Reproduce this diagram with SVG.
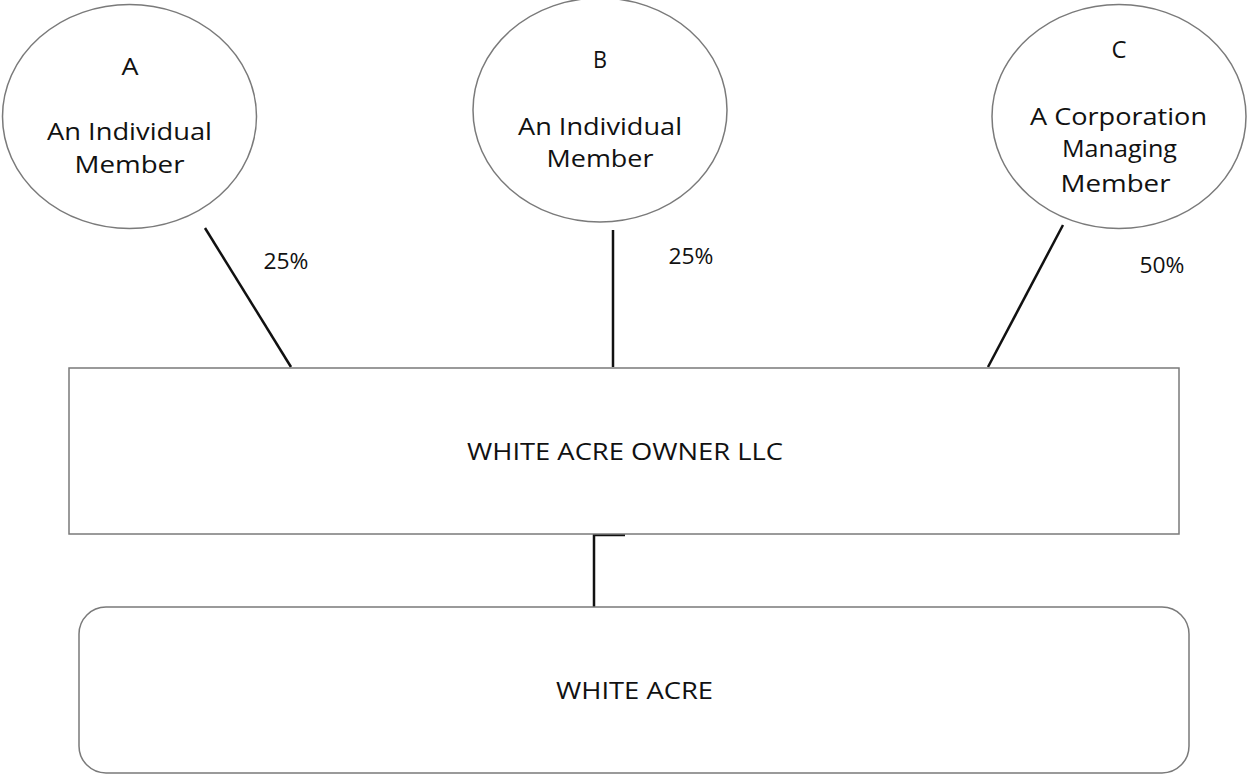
<svg xmlns="http://www.w3.org/2000/svg" width="1247" height="775" viewBox="0 0 1247 775">
<style>
.shape{fill:#fff;stroke:#7a7a7a;stroke-width:1.5}
.t{font-family:"Open Sans","Liberation Sans",sans-serif;font-size:24px;fill:#111;text-anchor:middle}
.l{font-family:"Open Sans","Liberation Sans",sans-serif;font-size:23px;fill:#111;text-anchor:middle}
.p{font-family:"Open Sans","Liberation Sans",sans-serif;font-size:21px;fill:#111;text-anchor:middle}
.c{stroke:#111;stroke-width:2.5;fill:none}
</style>
<rect width="1247" height="775" fill="#fff"/>
<g id="connectors">
<line class="c" x1="205" y1="228" x2="291" y2="367"/>
<line class="c" x1="613" y1="230" x2="613" y2="367"/>
<line class="c" x1="1063" y1="225" x2="988" y2="367"/>
<path class="c" d="M625,535 H594 V607"/>
<text class="p" x="286" y="269" textLength="45" lengthAdjust="spacingAndGlyphs">25%</text>
<text class="p" x="691" y="264" textLength="45" lengthAdjust="spacingAndGlyphs">25%</text>
<text class="p" x="1162" y="273" textLength="45" lengthAdjust="spacingAndGlyphs">50%</text>
</g>
<g id="nodeA">
<ellipse class="shape" cx="129.5" cy="116.5" rx="127" ry="112"/>
<text class="l" x="130" y="75" textLength="17" lengthAdjust="spacingAndGlyphs">A</text>
<text class="t" x="129.5" y="140" textLength="165" lengthAdjust="spacingAndGlyphs">An Individual</text>
<text class="t" x="129.5" y="173" textLength="110" lengthAdjust="spacingAndGlyphs">Member</text>
</g>
<g id="nodeB">
<ellipse class="shape" cx="600" cy="110" rx="127" ry="112"/>
<text class="l" x="600" y="68" textLength="14" lengthAdjust="spacingAndGlyphs">B</text>
<text class="t" x="600" y="135" textLength="164" lengthAdjust="spacingAndGlyphs">An Individual</text>
<text class="t" x="600" y="167" textLength="107" lengthAdjust="spacingAndGlyphs">Member</text>
</g>
<g id="nodeC">
<ellipse class="shape" cx="1119" cy="116.5" rx="127" ry="112"/>
<text class="l" x="1119" y="58" textLength="15" lengthAdjust="spacingAndGlyphs">C</text>
<text class="t" x="1118.5" y="125" textLength="177" lengthAdjust="spacingAndGlyphs">A Corporation</text>
<text class="t" x="1119.5" y="157" textLength="115" lengthAdjust="spacingAndGlyphs">Managing</text>
<text class="t" x="1115.5" y="192" textLength="110" lengthAdjust="spacingAndGlyphs">Member</text>
</g>
<g id="owner">
<rect class="shape" x="69" y="368" width="1110" height="166"/>
<text class="t" x="625" y="460" textLength="316" lengthAdjust="spacingAndGlyphs">WHITE ACRE OWNER LLC</text>
</g>
<g id="whiteacre">
<rect class="shape" x="79" y="607" width="1110" height="166" rx="27" ry="27"/>
<text class="t" x="634.5" y="699" textLength="157" lengthAdjust="spacingAndGlyphs">WHITE ACRE</text>
</g>
</svg>
